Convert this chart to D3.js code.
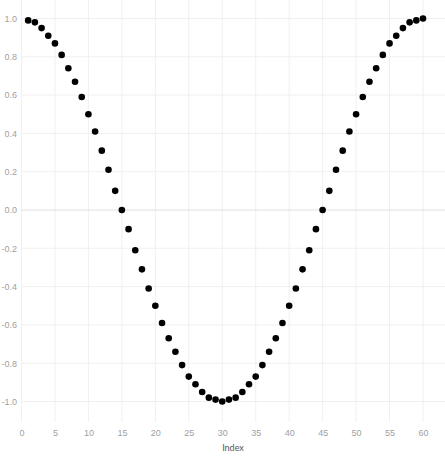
<!DOCTYPE html>
<html>
<head>
    <script src="https://cdnjs.cloudflare.com/ajax/libs/d3/7.8.5/d3.min.js"></script>
    <style>
        body { margin: 0; background: white; font-family: Lato, "Open Sans", sans-serif; }
        .tick text { fill: #a0a0a0; font-size: 9px; }
        .axis-title { fill: #555; font-size: 9px; }
    </style>
</head>
<body>
    <div id="chart"></div>
    <script>
        // values (index 1..60)
        const indexValues = d3.range(1, 61);
        const values = [
            0.99, 0.98, 0.95, 0.91, 0.87, 0.81, 0.74, 0.67, 0.59, 0.50,
            0.41, 0.31, 0.21, 0.10, 0.00, -0.10, -0.21, -0.31, -0.41, -0.50,
            -0.59, -0.67, -0.74, -0.81, -0.87, -0.91, -0.95, -0.98, -0.99, -1.00,
            -0.99, -0.98, -0.95, -0.91, -0.87, -0.81, -0.74, -0.67, -0.59, -0.50,
            -0.41, -0.31, -0.21, -0.10, 0.00, 0.10, 0.21, 0.31, 0.41, 0.50,
            0.59, 0.67, 0.74, 0.81, 0.87, 0.91, 0.95, 0.98, 0.99, 1.00
        ];
        const xTicks = [0, 5, 10, 15, 20, 25, 30, 35, 40, 45, 50, 55, 60];
        const yTicks = [-1.0, -0.8, -0.6, -0.4, -0.2, 0.0, 0.2, 0.4, 0.6, 0.8, 1.0];

        const W = 445, H = 458;
        const plotLeft = 21, plotRight = 445, plotTop = 0, plotBottom = 422;

        const svg = d3.select("#chart").append("svg")
            .attr("width", W).attr("height", H);

        const x = d3.scaleLinear().domain([0, 60]).range([21.5, 423]);
        const y = d3.scaleLinear().domain([-1, 1]).range([401.5, 18.5]);

        // gridlines
        svg.append("g").selectAll("line").data(xTicks).join("line")
            .attr("x1", d => x(d)).attr("x2", d => x(d))
            .attr("y1", plotTop).attr("y2", plotBottom)
            .attr("stroke", "#f0f0f0").attr("stroke-width", 1);
        svg.append("g").selectAll("line").data(yTicks).join("line")
            .attr("x1", plotLeft).attr("x2", plotRight)
            .attr("y1", d => y(d)).attr("y2", d => y(d))
            .attr("stroke", d => d === 0 ? "#e0e0e0" : "#f0f0f0").attr("stroke-width", 1);

        // axes
        svg.append("g")
            .attr("transform", `translate(0,${plotBottom})`)
            .call(d3.axisBottom(x).tickValues(xTicks).tickSize(0).tickPadding(8))
            .call(g => g.select(".domain").remove());
        svg.append("g")
            .attr("transform", `translate(${plotLeft},0)`)
            .call(d3.axisLeft(y).tickValues(yTicks).tickSize(0).tickPadding(4).tickFormat(d => d.toFixed(1)))
            .call(g => g.select(".domain").remove());

        svg.append("text")
            .attr("class", "axis-title")
            .attr("x", (plotLeft + plotRight) / 2)
            .attr("y", 451)
            .attr("text-anchor", "middle")
            .text("Index");

        // points
        svg.append("g").selectAll("circle").data(indexValues).join("circle")
            .attr("cx", d => x(d))
            .attr("cy", (d, i) => y(values[i]))
            .attr("r", 3.3)
            .attr("fill", "black");
    </script>
</body>
</html>
